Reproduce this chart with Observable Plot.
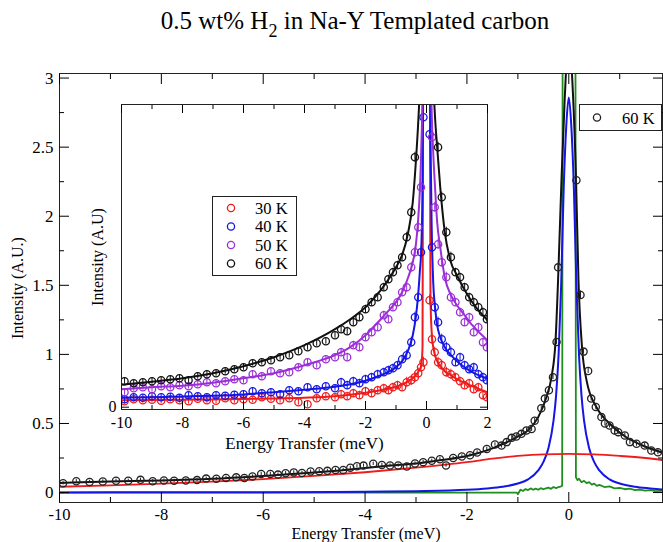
<!DOCTYPE html>
<html><head><meta charset="utf-8">
<script src="https://cdn.jsdelivr.net/npm/d3@7"></script>
<script src="https://cdn.jsdelivr.net/npm/@observablehq/plot@0.6"></script>
<style>
body{margin:0;background:#fff;}
#wrap{position:relative;width:663px;height:542px;overflow:hidden;background:#fff;font-family:'Liberation Serif','Times New Roman',serif;color:#000;}
#wrap svg, #wrap svg text{font-family:'Liberation Serif','Times New Roman',serif !important;}
#title{position:absolute;left:0;top:6px;width:710px;text-align:center;font-size:25px;white-space:nowrap;line-height:30px}
#title .sub{font-size:0.72em;position:relative;top:0.42em}
#main{position:absolute;left:0;top:50px}
#inset{position:absolute;left:85px;top:100px}
#leg{position:absolute;left:0;top:0}
</style></head>
<body><div id="wrap">
<div id="title">0.5 wt% H<span class="sub">2</span> in Na-Y Templated carbon</div>
<div id="main"></div>
<div id="inset"></div>
<svg id="leg" width="663" height="542"></svg>
</div>
<script>
// ---------- MAIN PLOT DATA (60 K) ----------
const mainX = [-9.93,-9.67,-9.41,-9.15,-8.89,-8.65,-8.41,-8.17,-7.95,-7.75,-7.52,-7.3,-7.12,-6.92,-6.73,-6.53,-6.37,-6.21,-6.04,-5.86,-5.71,-5.56,-5.4,-5.24,-5.07,-4.9,-4.74,-4.58,-4.43,-4.29,-4.16,-4.03,-3.84,-3.67,-3.51,-3.35,-3.18,-3.02,-2.86,-2.69,-2.53,-2.41,-2.27,-2.1,-1.94,-1.8,-1.61,-1.45,-1.32,-1.22,-1.12,-1.03,-0.93,-0.83,-0.73,-0.67,-0.54,-0.47,-0.39,-0.31,-0.24,-0.21,0.15,0.23,0.29,0.38,0.44,0.53,0.64,0.71,0.8,0.9,0.97,1.1,1.2,1.33,1.49,1.62,1.75];
const mainY = [0.067,0.082,0.077,0.08,0.085,0.085,0.092,0.082,0.087,0.085,0.087,0.09,0.101,0.1,0.106,0.11,0.106,0.116,0.135,0.135,0.13,0.14,0.146,0.142,0.152,0.155,0.157,0.164,0.164,0.179,0.19,0.195,0.208,0.2,0.196,0.196,0.188,0.21,0.22,0.23,0.241,0.196,0.25,0.261,0.27,0.29,0.316,0.348,0.34,0.365,0.396,0.406,0.425,0.45,0.46,0.52,0.61,0.68,0.74,0.835,1.09,1.63,2.26,1.43,1.02,0.88,0.68,0.62,0.546,0.5,0.485,0.45,0.437,0.413,0.365,0.353,0.34,0.304,0.292];
const mainErr = [0.012,0.012,0.012,0.012,0.012,0.012,0.012,0.012,0.012,0.012,0.012,0.012,0.012,0.012,0.012,0.012,0.012,0.012,0.012,0.012,0.012,0.012,0.012,0.012,0.012,0.012,0.012,0.012,0.012,0.012,0.012,0.012,0.012,0.012,0.012,0.012,0.012,0.012,0.012,0.012,0.012,0.012,0.012,0.012,0.012,0.012,0.012,0.012,0.018,0.018,0.018,0.018,0.018,0.018,0.018,0.018,0.018,0.018,0.018,0.018,0.018,0.018,0.03,0.03,0.018,0.018,0.018,0.018,0.018,0.018,0.018,0.018,0.018,0.018,0.018,0.018,0.018,0.018,0.018];
// total fit (black)
const fitX = [-10,-9,-8,-7,-6,-5,-4.5,-4,-3.5,-3,-2.5,-2,-1.5,-1.29,-1.03,-0.8,-0.6,-0.44,-0.34,-0.26,-0.21,-0.14,-0.08,0,0.08,0.14,0.19,0.26,0.35,0.54,0.8,1.13,1.52,1.84];
const fitY = [0.07,0.08,0.088,0.1,0.12,0.145,0.16,0.178,0.195,0.21,0.235,0.265,0.32,0.353,0.4,0.45,0.546,0.69,0.835,1.1,1.54,2.3,2.85,3.3,2.9,2.3,1.54,1.05,0.81,0.62,0.5,0.4,0.33,0.29];
// broad component (red)
const redX = [-10,-9,-8,-7,-6,-5,-4,-3,-2,-1.5,-1,-0.5,0,0.5,1,1.5,1.84];
const redY = [0.042,0.052,0.064,0.079,0.097,0.12,0.147,0.18,0.22,0.245,0.265,0.277,0.28,0.276,0.265,0.25,0.235];
// narrow component (blue)
const blueX = [-10,-8,-6,-4,-3,-2,-1.6,-1.3,-1.0,-0.8,-0.6,-0.5,-0.4,-0.3,-0.25,-0.2,-0.15,-0.1,-0.05,0,0.05,0.1,0.15,0.2,0.25,0.3,0.4,0.5,0.6,0.8,1.0,1.3,1.6,1.84];
const blueY = [0.001,0.002,0.003,0.006,0.01,0.02,0.03,0.042,0.065,0.095,0.16,0.22,0.32,0.52,0.7,1.0,1.5,2.2,2.65,2.86,2.65,2.2,1.5,1.0,0.7,0.52,0.32,0.22,0.16,0.095,0.065,0.042,0.03,0.022];
// elastic / resolution (green)
const greenX = [-10,-1.3,-1.02,-1.0,-0.95,-0.9,-0.85,-0.8,-0.75,-0.7,-0.65,-0.6,-0.55,-0.5,-0.45,-0.4,-0.35,-0.3,-0.25,-0.2,-0.15,-0.13,-0.12,0,0.13,0.14,0.17,0.2,0.25,0.3,0.35,0.4,0.45,0.5,0.55,0.6,0.7,0.8,0.9,1.0,1.1,1.2,1.3,1.4,1.5,1.6,1.7,1.84];
const greenY = [0,0,0,-0.012,0.02,0.012,0.025,0.018,0.03,0.02,0.028,0.02,0.032,0.024,0.03,0.036,0.027,0.04,0.032,0.04,0.045,0.05,3.6,9,3.6,0.11,0.09,0.1,0.075,0.085,0.068,0.075,0.058,0.065,0.048,0.055,0.04,0.045,0.03,0.034,0.024,0.028,0.018,0.022,0.014,0.018,0.01,0.012];
const mainXMajor = [-10,-8,-6,-4,-2,0];
const mainXMinor = [-9,-7,-5,-3,-1,1];
const mainYMajor = [0,0.5,1,1.5,2,2.5,3];
const mainYMinor = [0.25,0.75,1.25,1.75,2.25,2.75];
const mainLegend = ["60 K"];

// ---------- INSET DATA ----------
const insetSeries = ["30 K","40 K","50 K","60 K"];
const insetX = [-9.9,-9.6,-9.3,-9.0,-8.7,-8.4,-8.1,-7.8,-7.5,-7.2,-6.9,-6.6,-6.3,-6.0,-5.7,-5.4,-5.1,-4.8,-4.5,-4.2,-3.9,-3.6,-3.3,-3.0,-2.8,-2.6,-2.4,-2.2,-2.0,-1.8,-1.6,-1.4,-1.25,-1.1,-0.95,-0.8,-0.65,-0.5,-0.38,-0.27,-0.18,-0.1,0.1,0.18,0.27,0.38,0.5,0.65,0.8,0.95,1.1,1.25,1.4,1.55,1.7,1.85,1.98];
const insetErr = [0.03,0.03,0.03,0.03,0.03,0.03,0.03,0.03,0.03,0.03,0.03,0.03,0.03,0.03,0.03,0.03,0.03,0.03,0.03,0.03,0.03,0.03,0.03,0.03,0.04,0.04,0.04,0.04,0.04,0.04,0.04,0.04,0.04,0.04,0.04,0.04,0.05,0.05,0.05,0.05,0.05,0.05,0.05,0.05,0.05,0.05,0.05,0.05,0.05,0.04,0.04,0.04,0.04,0.04,0.04,0.04,0.04];
const data30 = [0.06,0.08,0.07,0.075,0.065,0.08,0.07,0.06,0.085,0.07,0.065,0.09,0.07,0.08,0.075,0.1,0.085,0.07,0.09,0.05,0.03,0.09,0.11,0.1,0.13,0.11,0.14,0.12,0.16,0.14,0.17,0.19,0.17,0.2,0.22,0.2,0.25,0.27,0.3,0.34,0.4,0.45,1.07,0.68,0.55,0.45,0.42,0.35,0.33,0.3,0.26,0.22,0.24,0.18,0.2,0.12,0.1];
const data40 = [0.08,0.1,0.095,0.11,0.1,0.105,0.095,0.12,0.11,0.1,0.12,0.115,0.125,0.13,0.16,0.14,0.15,0.13,0.17,0.16,0.2,0.18,0.21,0.19,0.25,0.22,0.26,0.24,0.28,0.3,0.33,0.35,0.37,0.39,0.42,0.48,0.52,0.65,0.9,1.1,1.55,2.9,2.73,1.6,1.0,0.85,0.68,0.6,0.55,0.45,0.5,0.42,0.38,0.4,0.33,0.3,0.27];
const data50 = [0.15,0.19,0.2,0.18,0.21,0.2,0.22,0.21,0.23,0.25,0.24,0.26,0.28,0.27,0.33,0.31,0.36,0.34,0.35,0.4,0.45,0.42,0.48,0.5,0.55,0.5,0.62,0.6,0.7,0.75,0.8,0.92,0.88,1.0,1.05,1.15,1.2,1.4,1.55,1.8,2.2,3.5,3.5,2.7,2.0,1.63,1.45,1.3,1.1,1.05,0.95,0.85,0.9,0.75,0.8,0.65,0.6];
const data60 = [0.26,0.24,0.25,0.26,0.27,0.28,0.29,0.27,0.31,0.33,0.34,0.36,0.38,0.4,0.44,0.45,0.47,0.5,0.52,0.56,0.6,0.64,0.66,0.72,0.78,0.76,0.85,0.9,0.98,1.05,1.1,1.2,1.28,1.35,1.42,1.5,1.7,1.95,2.5,3.2,3.6,4.0,4.0,3.6,3.1,2.6,2.1,1.75,1.5,1.35,1.3,1.2,1.1,1.05,1.0,0.95,0.88];
const insetFitX = [-10,-9,-8,-7,-6,-5,-4,-3,-2.5,-2,-1.5,-1.2,-1,-0.8,-0.6,-0.45,-0.35,-0.28,-0.22,-0.17,-0.13,-0.11,0,0.11,0.13,0.17,0.22,0.28,0.35,0.45,0.6,0.8,1,1.2,1.5,2];
const fit30 = [0.07,0.072,0.075,0.078,0.082,0.087,0.095,0.11,0.125,0.145,0.17,0.19,0.205,0.225,0.26,0.29,0.32,0.35,0.38,0.42,0.6,3.5,8,3.5,1.1,0.75,0.6,0.52,0.46,0.41,0.36,0.32,0.28,0.25,0.21,0.15];
const fit40 = [0.095,0.1,0.107,0.115,0.128,0.15,0.175,0.205,0.23,0.265,0.32,0.36,0.4,0.46,0.57,0.72,0.9,1.1,1.35,1.6,2.2,3.5,8,3.5,2.7,1.8,1.25,1.0,0.82,0.7,0.6,0.52,0.46,0.41,0.35,0.285];
const fit50 = [0.18,0.2,0.215,0.245,0.29,0.34,0.42,0.52,0.6,0.72,0.88,0.98,1.05,1.15,1.3,1.45,1.62,1.85,2.15,2.6,3.2,4.5,8,4.5,3.6,2.95,2.55,2.2,1.85,1.6,1.3,1.12,1.02,0.94,0.82,0.67];
const fit60 = [0.225,0.255,0.29,0.34,0.41,0.5,0.62,0.78,0.88,1.0,1.17,1.3,1.4,1.52,1.75,2.05,2.45,2.8,3.2,3.8,4.5,5.5,8,5.5,4.5,3.9,3.3,2.9,2.6,2.2,1.75,1.45,1.32,1.2,1.05,0.87];
const insetXMajor = [-10,-8,-6,-4,-2,0,2];
const insetXMinor = [-9,-7,-5,-3,-1,1];
const insetYTicks = [0];

// ---------- STYLE ----------
const FONT = "'Liberation Serif','Times New Roman',serif";
const RED = "#ee1c1c", BLUE = "#1515e6", GREEN = "#1f8e1f", PURPLE = "#9b2fd6", BLACK = "#111";
const insetColors = [RED, BLUE, PURPLE, BLACK];
const fmt = d => String(d);
const blank = () => "";

const pts = (xs, ys) => xs.map((x, i) => ({x, y: ys[i]}));
const mainData = mainX.map((x, i) => ({x, y: mainY[i], e: mainErr[i]}));

const main = Plot.plot({
  width: 663, height: 492,
  marginLeft: 59, marginRight: 1, marginTop: 23, marginBottom: 40,
  style: {fontFamily: FONT, fontSize: "17px", background: "transparent", color: "#000", overflow: "visible"},
  x: {domain: [-10, 1.84]},
  y: {domain: [-0.072, 3.033]},
  marks: [
    Plot.line(pts(greenX, greenY), {x: "x", y: "y", stroke: GREEN, strokeWidth: 1.8, clip: true}),
    Plot.line(pts(blueX, blueY), {x: "x", y: "y", stroke: BLUE, strokeWidth: 2, curve: "monotone-x", clip: true}),
    Plot.line(pts(redX, redY), {x: "x", y: "y", stroke: RED, strokeWidth: 1.8, curve: "monotone-x", clip: true}),
    Plot.line(pts(fitX, fitY), {x: "x", y: "y", stroke: BLACK, strokeWidth: 2, curve: "monotone-x", clip: true}),
    Plot.ruleX(mainData, {x: "x", y1: d => d.y - d.e, y2: d => d.y + d.e, stroke: "#222", strokeWidth: 1, clip: true}),
    Plot.dot(mainData, {x: "x", y: "y", r: 3.6, stroke: "#222", strokeWidth: 1.3, fill: "none", clip: true}),
    Plot.frame({stroke: "#222"}),
    Plot.axisX(mainXMajor, {anchor: "bottom", tickSize: -10, tickPadding: 16, tickFormat: fmt, label: null, fontSize: 16.5}),
    Plot.axisX(mainXMinor, {anchor: "bottom", tickSize: -5, tickFormat: blank, label: null}),
    Plot.axisX(mainXMajor, {anchor: "top", tickSize: -10, tickFormat: blank, label: null}),
    Plot.axisX(mainXMinor, {anchor: "top", tickSize: -5, tickFormat: blank, label: null}),
    Plot.axisY(mainYMajor, {anchor: "left", tickSize: -10, tickPadding: 16, tickFormat: fmt, label: null, fontSize: 17}),
    Plot.axisY(mainYMinor, {anchor: "left", tickSize: -5, tickFormat: blank, label: null}),
    Plot.axisY(mainYMajor, {anchor: "right", tickSize: -10, tickFormat: blank, label: null}),
    Plot.axisY(mainYMinor, {anchor: "right", tickSize: -5, tickFormat: blank, label: null}),
    Plot.text(["Energy Transfer (meV)"], {text: d => d, frameAnchor: "bottom", lineAnchor: "middle", textAnchor: "middle", dy: 31, dx: 5, fontSize: 16}),
    Plot.text(["Intensity (A.U.)"], {text: d => d, frameAnchor: "left", lineAnchor: "middle", textAnchor: "middle", dx: -42, rotate: -90, fontSize: 16})
  ]
});
document.getElementById("main").appendChild(main);

// ---------- INSET ----------
const insetData = [data30, data40, data50, data60];
const insetFits = [fit30, fit40, fit50, fit60];
const insetMarks = [Plot.frame({fill: "white", stroke: null})];
insetSeries.forEach((name, k) => {
  const c = insetColors[k];
  const d = insetX.map((x, i) => ({x, y: insetData[k][i], e: insetErr[i]}));
  insetMarks.push(
    Plot.line(pts(insetFitX, insetFits[k]), {x: "x", y: "y", stroke: c, strokeWidth: 2, curve: "monotone-x", clip: true}),
    Plot.ruleX(d, {x: "x", y1: p => p.y - p.e, y2: p => p.y + p.e, stroke: c, strokeWidth: 1, clip: true}),
    Plot.dot(d, {x: "x", y: "y", r: 3.6, stroke: c, strokeWidth: 1.3, fill: "none", clip: true})
  );
});
insetMarks.push(
  Plot.frame({stroke: "#222"}),
  Plot.axisX(insetXMajor, {anchor: "bottom", tickSize: -8, tickPadding: 15, tickFormat: fmt, label: null, fontSize: 16}),
  Plot.axisX(insetXMinor, {anchor: "bottom", tickSize: -4, tickFormat: blank, label: null}),
  Plot.axisX(insetXMajor, {anchor: "top", tickSize: -8, tickFormat: blank, label: null}),
  Plot.axisX(insetXMinor, {anchor: "top", tickSize: -4, tickFormat: blank, label: null}),
  Plot.axisY(insetYTicks, {anchor: "left", tickSize: -8, tickPadding: 13, tickFormat: fmt, label: null, fontSize: 16}),
  Plot.axisY(insetYTicks, {anchor: "right", tickSize: -8, tickFormat: blank, label: null}),
  Plot.text(["Energy Transfer (meV)"], {text: d => d, frameAnchor: "bottom", lineAnchor: "middle", textAnchor: "middle", dy: 34, fontSize: 17}),
  Plot.text(["Intensity (A.U)"], {text: d => d, frameAnchor: "left", lineAnchor: "middle", textAnchor: "middle", dx: -24, rotate: -90, fontSize: 16})
);
const inset = Plot.plot({
  width: 405, height: 352,
  marginLeft: 36, marginRight: 3, marginTop: 4, marginBottom: 43,
  style: {fontFamily: FONT, fontSize: "16px", background: "transparent", color: "#000", overflow: "visible"},
  x: {domain: [-10, 2]},
  y: {domain: [-0.023, 3.027]},
  marks: insetMarks
});
document.getElementById("inset").appendChild(inset);

// ---------- LEGENDS ----------
const NS = "http://www.w3.org/2000/svg";
const leg = document.getElementById("leg");
function el(tag, attrs, txt) {
  const e = document.createElementNS(NS, tag);
  for (const k in attrs) e.setAttribute(k, attrs[k]);
  if (txt != null) e.textContent = txt;
  leg.appendChild(e);
  return e;
}
// main legend
el("rect", {x: 579.5, y: 104.5, width: 82, height: 26, fill: "white", stroke: "#222", "stroke-width": 1});
mainLegend.forEach((t, i) => {
  el("circle", {cx: 597, cy: 117.5, r: 3.6, fill: "none", stroke: "#222", "stroke-width": 1.3});
  el("text", {x: 622, y: 123.5, "font-size": 16.5, fill: "#000"}, t);
});
// inset legend
el("rect", {x: 212.5, y: 196.5, width: 84, height: 79, fill: "white", stroke: "#222", "stroke-width": 1});
const legY = [208, 226.5, 245, 263.5];
insetSeries.forEach((t, i) => {
  el("circle", {cx: 231, cy: legY[i], r: 3.6, fill: "none", stroke: insetColors[i], "stroke-width": 1.3});
  el("text", {x: 255, y: legY[i] + 5.5, "font-size": 16.5, fill: "#000"}, t);
});
</script>
</body></html>
